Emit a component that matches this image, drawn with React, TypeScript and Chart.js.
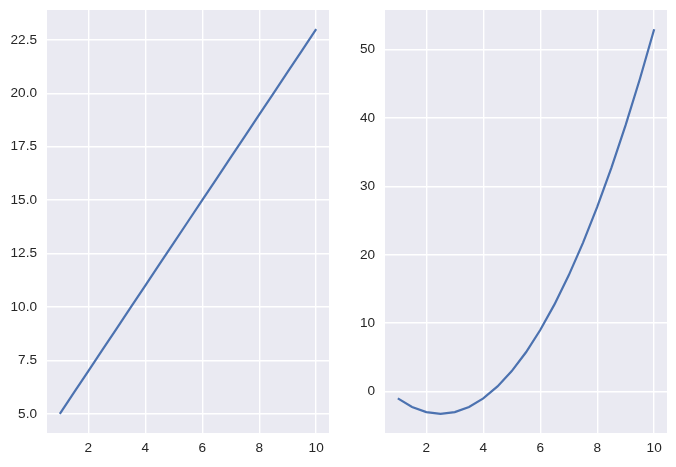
import React, { useEffect, useRef } from "react";
import { Chart, registerables } from "chart.js";

Chart.register(...registerables);

const xValues = [1, 1.5, 2, 2.5, 3, 3.5, 4, 4.5, 5, 5.5, 6, 6.5, 7, 7.5, 8, 8.5, 9, 9.5, 10];
const linearValues = [5, 6, 7, 8, 9, 10, 11, 12, 13, 14, 15, 16, 17, 18, 19, 20, 21, 22, 23];
const quadValues = [-1, -2.25, -3, -3.25, -3, -2.25, -1, 0.75, 3, 5.75, 9, 12.75, 17, 21.75, 27, 32.75, 39, 45.75, 53];
const xTicks = [2, 4, 6, 8, 10];
const leftYTicks = [5, 7.5, 10, 12.5, 15, 17.5, 20, 22.5];
const rightYTicks = [0, 10, 20, 30, 40, 50];

const BG = "#EAEAF2";
const LINE = "#4C72B0";
const TEXT = "#262626";
const FONT = { family: "'Liberation Sans', Arial, sans-serif", size: 13.6 };

const bgPlugin = {
  id: "bgPlugin",
  beforeDraw(chart: any) {
    const { ctx, chartArea } = chart;
    ctx.save();
    ctx.fillStyle = BG;
    ctx.fillRect(chartArea.left, chartArea.top, chartArea.right - chartArea.left, chartArea.bottom - chartArea.top);
    ctx.restore();
  },
};

function makeConfig(ys: number[], yTicks: number[], yMin: number, yMax: number, decimals: number): any {
  return {
    type: "line",
    data: {
      datasets: [
        {
          data: xValues.map((x, i) => ({ x, y: ys[i] })),
          borderColor: LINE,
          borderWidth: 2.2,
          pointRadius: 0,
          tension: 0,
          fill: false,
        },
      ],
    },
    options: {
      animation: false,
      responsive: false,
      maintainAspectRatio: false,
      layout: { padding: { top: 10, right: 9, left: 0, bottom: 0 } },
      plugins: { legend: { display: false }, tooltip: { enabled: false } },
      scales: {
        x: {
          type: "linear",
          min: 0.55,
          max: 10.45,
          afterBuildTicks: (scale: any) => {
            scale.ticks = xTicks.map((v) => ({ value: v }));
          },
          afterFit: (scale: any) => {
            scale.height = 34;
            scale.paddingLeft = 0;
            scale.paddingRight = 0;
          },
          grid: { color: "#FFFFFF", lineWidth: 1.4, drawTicks: false, tickLength: 0 },
          border: { display: false },
          ticks: {
            color: TEXT,
            font: FONT,
            padding: 7,
            maxRotation: 0,
            callback: (v: any) => String(v),
          },
        },
        y: {
          type: "linear",
          min: yMin,
          max: yMax,
          afterBuildTicks: (scale: any) => {
            scale.ticks = yTicks.map((v) => ({ value: v }));
          },
          afterFit: (scale: any) => {
            scale.width = 47;
            scale.paddingTop = 0;
            scale.paddingBottom = 0;
          },
          grid: { color: "#FFFFFF", lineWidth: 1.4, drawTicks: false, tickLength: 0 },
          border: { display: false },
          ticks: {
            color: TEXT,
            font: FONT,
            padding: 10,
            callback: (v: any) => Number(v).toFixed(decimals),
          },
        },
      },
    },
    plugins: [bgPlugin],
  };
}

function Panel({ ys, yTicks, yMin, yMax, decimals, left }: any) {
  const ref = useRef<HTMLCanvasElement>(null);
  useEffect(() => {
    if (!ref.current) return;
    const chart = new Chart(ref.current, makeConfig(ys, yTicks, yMin, yMax, decimals));
    return () => chart.destroy();
  }, []);
  return (
    <canvas
      ref={ref}
      width={338}
      height={467}
      style={{ position: "absolute", left, top: 0, width: 338, height: 467 }}
    />
  );
}

export default function App() {
  return (
    <div style={{ position: "fixed", left: 0, top: 0, width: 676, height: 467, background: "#FFFFFF" }}>
      <Panel ys={linearValues} yTicks={leftYTicks} yMin={4.1} yMax={23.9} decimals={1} left={0} />
      <Panel ys={quadValues} yTicks={rightYTicks} yMin={-6.0625} yMax={55.8125} decimals={0} left={338} />
    </div>
  );
}
